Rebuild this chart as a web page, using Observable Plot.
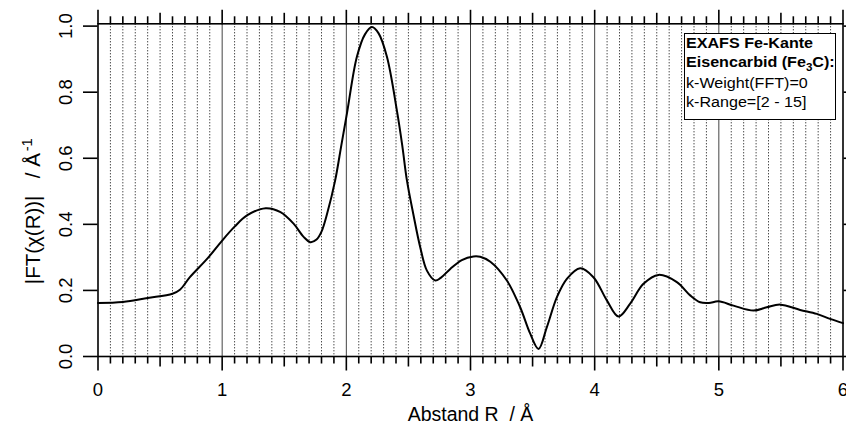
<!DOCTYPE html>
<html>
<head>
<meta charset="utf-8">
<script src="https://cdn.jsdelivr.net/npm/d3@7"></script>
<script src="https://cdn.jsdelivr.net/npm/@observablehq/plot@0.6"></script>
<style>
html,body{margin:0;padding:0;background:#fff;}
#wrap{position:relative;width:846px;height:428px;font-family:"Liberation Sans",Arial,Helvetica,sans-serif;}
#wrap svg{display:block;}
#legend{position:absolute;left:684px;top:33px;width:152px;height:87px;border:1px solid #000;background:#fff;box-sizing:border-box;}
#legend .l{position:absolute;left:1px;white-space:nowrap;color:#000;line-height:1;font-size:14px;transform:scaleX(1.15);transform-origin:0 50%;}
#legend .b{font-weight:bold;}
#legend sub{font-size:0.72em;vertical-align:-0.35em;line-height:0;}
</style>
</head>
<body>
<div id="wrap"></div>
<script>
// Data
const rValues  = [0, 0.2, 0.4, 0.6, 0.66, 0.74, 0.88, 1.0, 1.1, 1.2, 1.35, 1.47, 1.575, 1.656, 1.71, 1.76, 1.80, 1.845, 1.91, 1.96, 2.005, 2.085, 2.15, 2.206, 2.26, 2.327, 2.407, 2.45, 2.488, 2.54, 2.595, 2.649, 2.716, 2.76, 2.837, 2.93, 3.024, 3.078, 3.16, 3.293, 3.40, 3.481, 3.548, 3.615, 3.696, 3.776, 3.883, 3.99, 4.098, 4.192, 4.286, 4.393, 4.514, 4.662, 4.769, 4.85, 4.92, 4.997, 5.118, 5.279, 5.386, 5.494, 5.655, 5.789, 5.896, 6.0];
const ftValues = [0.162, 0.165, 0.177, 0.19, 0.202, 0.24, 0.296, 0.351, 0.393, 0.427, 0.449, 0.437, 0.402, 0.362, 0.346, 0.354, 0.378, 0.432, 0.533, 0.64, 0.736, 0.907, 0.975, 0.997, 0.978, 0.907, 0.745, 0.64, 0.533, 0.43, 0.331, 0.26, 0.230, 0.238, 0.265, 0.292, 0.303, 0.302, 0.287, 0.230, 0.149, 0.069, 0.023, 0.089, 0.180, 0.235, 0.267, 0.240, 0.170, 0.121, 0.160, 0.220, 0.247, 0.225, 0.185, 0.164, 0.162, 0.167, 0.154, 0.139, 0.149, 0.157, 0.141, 0.129, 0.114, 0.101];

const xTickValues = [0, 1, 2, 3, 4, 5, 6];
const xTickLabels = ["0", "1", "2", "3", "4", "5", "6"];
const yTickValues = [0, 0.2, 0.4, 0.6, 0.8, 1.0];
const yTickLabels = ["0.0", "0.2", "0.4", "0.6", "0.8", "1.0"];
const xTitle = "Abstand R  / Å";
const yTitleMain = "|FT(χ(R))|";
const yTitleUnit = "/ Å";
const yTitleSup = "-1";
const legendBold = ["EXAFS Fe-Kante", "Eisencarbid (Fe", "3", "C):"];
const legendNormal = ["k-Weight(FFT)=0", "k-Range=[2 - 15]"];

const data = rValues.map((r, i) => ({r, ft: ftValues[i]}));
const tenths = d3.range(1, 60).map(i => i / 10);
const dotted = tenths.filter(v => Math.abs(v - Math.round(v)) > 1e-6);
const halfTicks = tenths.filter(v => Math.abs(v * 2 - Math.round(v * 2)) < 1e-6 && Math.abs(v - Math.round(v)) > 1e-6);
const fineTicks = dotted.filter(v => !halfTicks.includes(v));
const yTop = 1.007;
const font = "Liberation Sans, Arial, Helvetica, sans-serif";

const chart = Plot.plot({
  width: 846,
  height: 428,
  marginLeft: 97.5,
  marginRight: 3.5,
  marginTop: 23.3,
  marginBottom: 72,
  x: {domain: [0, 6], axis: null, label: null},
  y: {domain: [0, yTop], axis: null, label: null},
  style: {fontFamily: font, background: "white", color: "black"},
  marks: [
    Plot.ruleX(dotted, {stroke: "#000", strokeWidth: 1, strokeDasharray: "1,2"}),
    Plot.ruleX([1, 2, 3, 4, 5], {stroke: "#444", strokeWidth: 1}),
    Plot.line(data, {x: "r", y: "ft", curve: "catmull-rom", stroke: "#000", strokeWidth: 2}),
    Plot.frame({stroke: "#000", strokeWidth: 1.6}),
    // bottom ticks
    Plot.axisX(fineTicks, {anchor: "bottom", tickSize: 7.5, tickFormat: () => "", label: null, strokeWidth: 1.6}),
    Plot.axisX(halfTicks, {anchor: "bottom", tickSize: 10.5, tickFormat: () => "", label: null, strokeWidth: 1.6}),
    Plot.axisX(xTickValues, {anchor: "bottom", tickSize: 14.5, tickFormat: () => "", label: null, strokeWidth: 1.6}),
    // top ticks
    Plot.axisX(fineTicks, {anchor: "top", tickSize: 8, tickFormat: () => "", label: null, strokeWidth: 1.6}),
    Plot.axisX(halfTicks, {anchor: "top", tickSize: 11.5, tickFormat: () => "", label: null, strokeWidth: 1.6}),
    Plot.axisX(xTickValues, {anchor: "top", tickSize: 14.5, tickFormat: () => "", label: null, strokeWidth: 1.6}),
    // left & right ticks
    Plot.axisY(yTickValues, {anchor: "left", tickSize: 14.5, tickFormat: () => "", label: null, strokeWidth: 1.6}),
    Plot.axisY(yTickValues, {anchor: "right", tickSize: 8, tickFormat: () => "", label: null, strokeWidth: 1.6}),
    // tick labels
    Plot.text(xTickValues, {x: d => d, text: (d, i) => xTickLabels[i], frameAnchor: "bottom", dy: 34, fontSize: 18.5, lineAnchor: "middle", fill: "#000"}),
    Plot.text(yTickValues, {y: d => d, text: (d, i) => yTickLabels[i], frameAnchor: "left", dx: -31.5, rotate: -90, fontSize: 18.5, textAnchor: "middle", lineAnchor: "middle", fill: "#000"}),
    // axis titles
    Plot.text([xTitle], {text: d => d, frameAnchor: "bottom", dy: 58, fontSize: 19.5, lineAnchor: "middle", fill: "#000"}),
    Plot.text([yTitleMain], {text: d => d, frameAnchor: "left", dx: -64.5, dy: 21, rotate: -90, fontSize: 20.5, textAnchor: "middle", lineAnchor: "middle", fill: "#000"})
  ]
});

const wrap = document.getElementById("wrap");
wrap.appendChild(chart);

// complete the y title with unit and superscript
d3.select(chart).selectAll("text").each(function() {
  if (this.textContent === yTitleMain) {
    const t = d3.select(this);
    t.append("tspan").attr("dx", "0.85em").text(yTitleUnit);
    t.append("tspan").attr("dx", "0.12em").attr("dy", "-0.55em").attr("font-size", "0.72em").text(yTitleSup);
  }
});

// legend box
const legend = document.createElement("div");
legend.id = "legend";
legend.innerHTML =
  `<div class="l b" style="top:2.2px">${legendBold[0]}</div>` +
  `<div class="l b" style="top:20.8px">${legendBold[1]}<sub>${legendBold[2]}</sub>${legendBold[3]}</div>` +
  `<div class="l" style="top:42.2px">${legendNormal[0]}</div>` +
  `<div class="l" style="top:61.2px">${legendNormal[1]}</div>`;
wrap.appendChild(legend);
</script>
</body>
</html>
